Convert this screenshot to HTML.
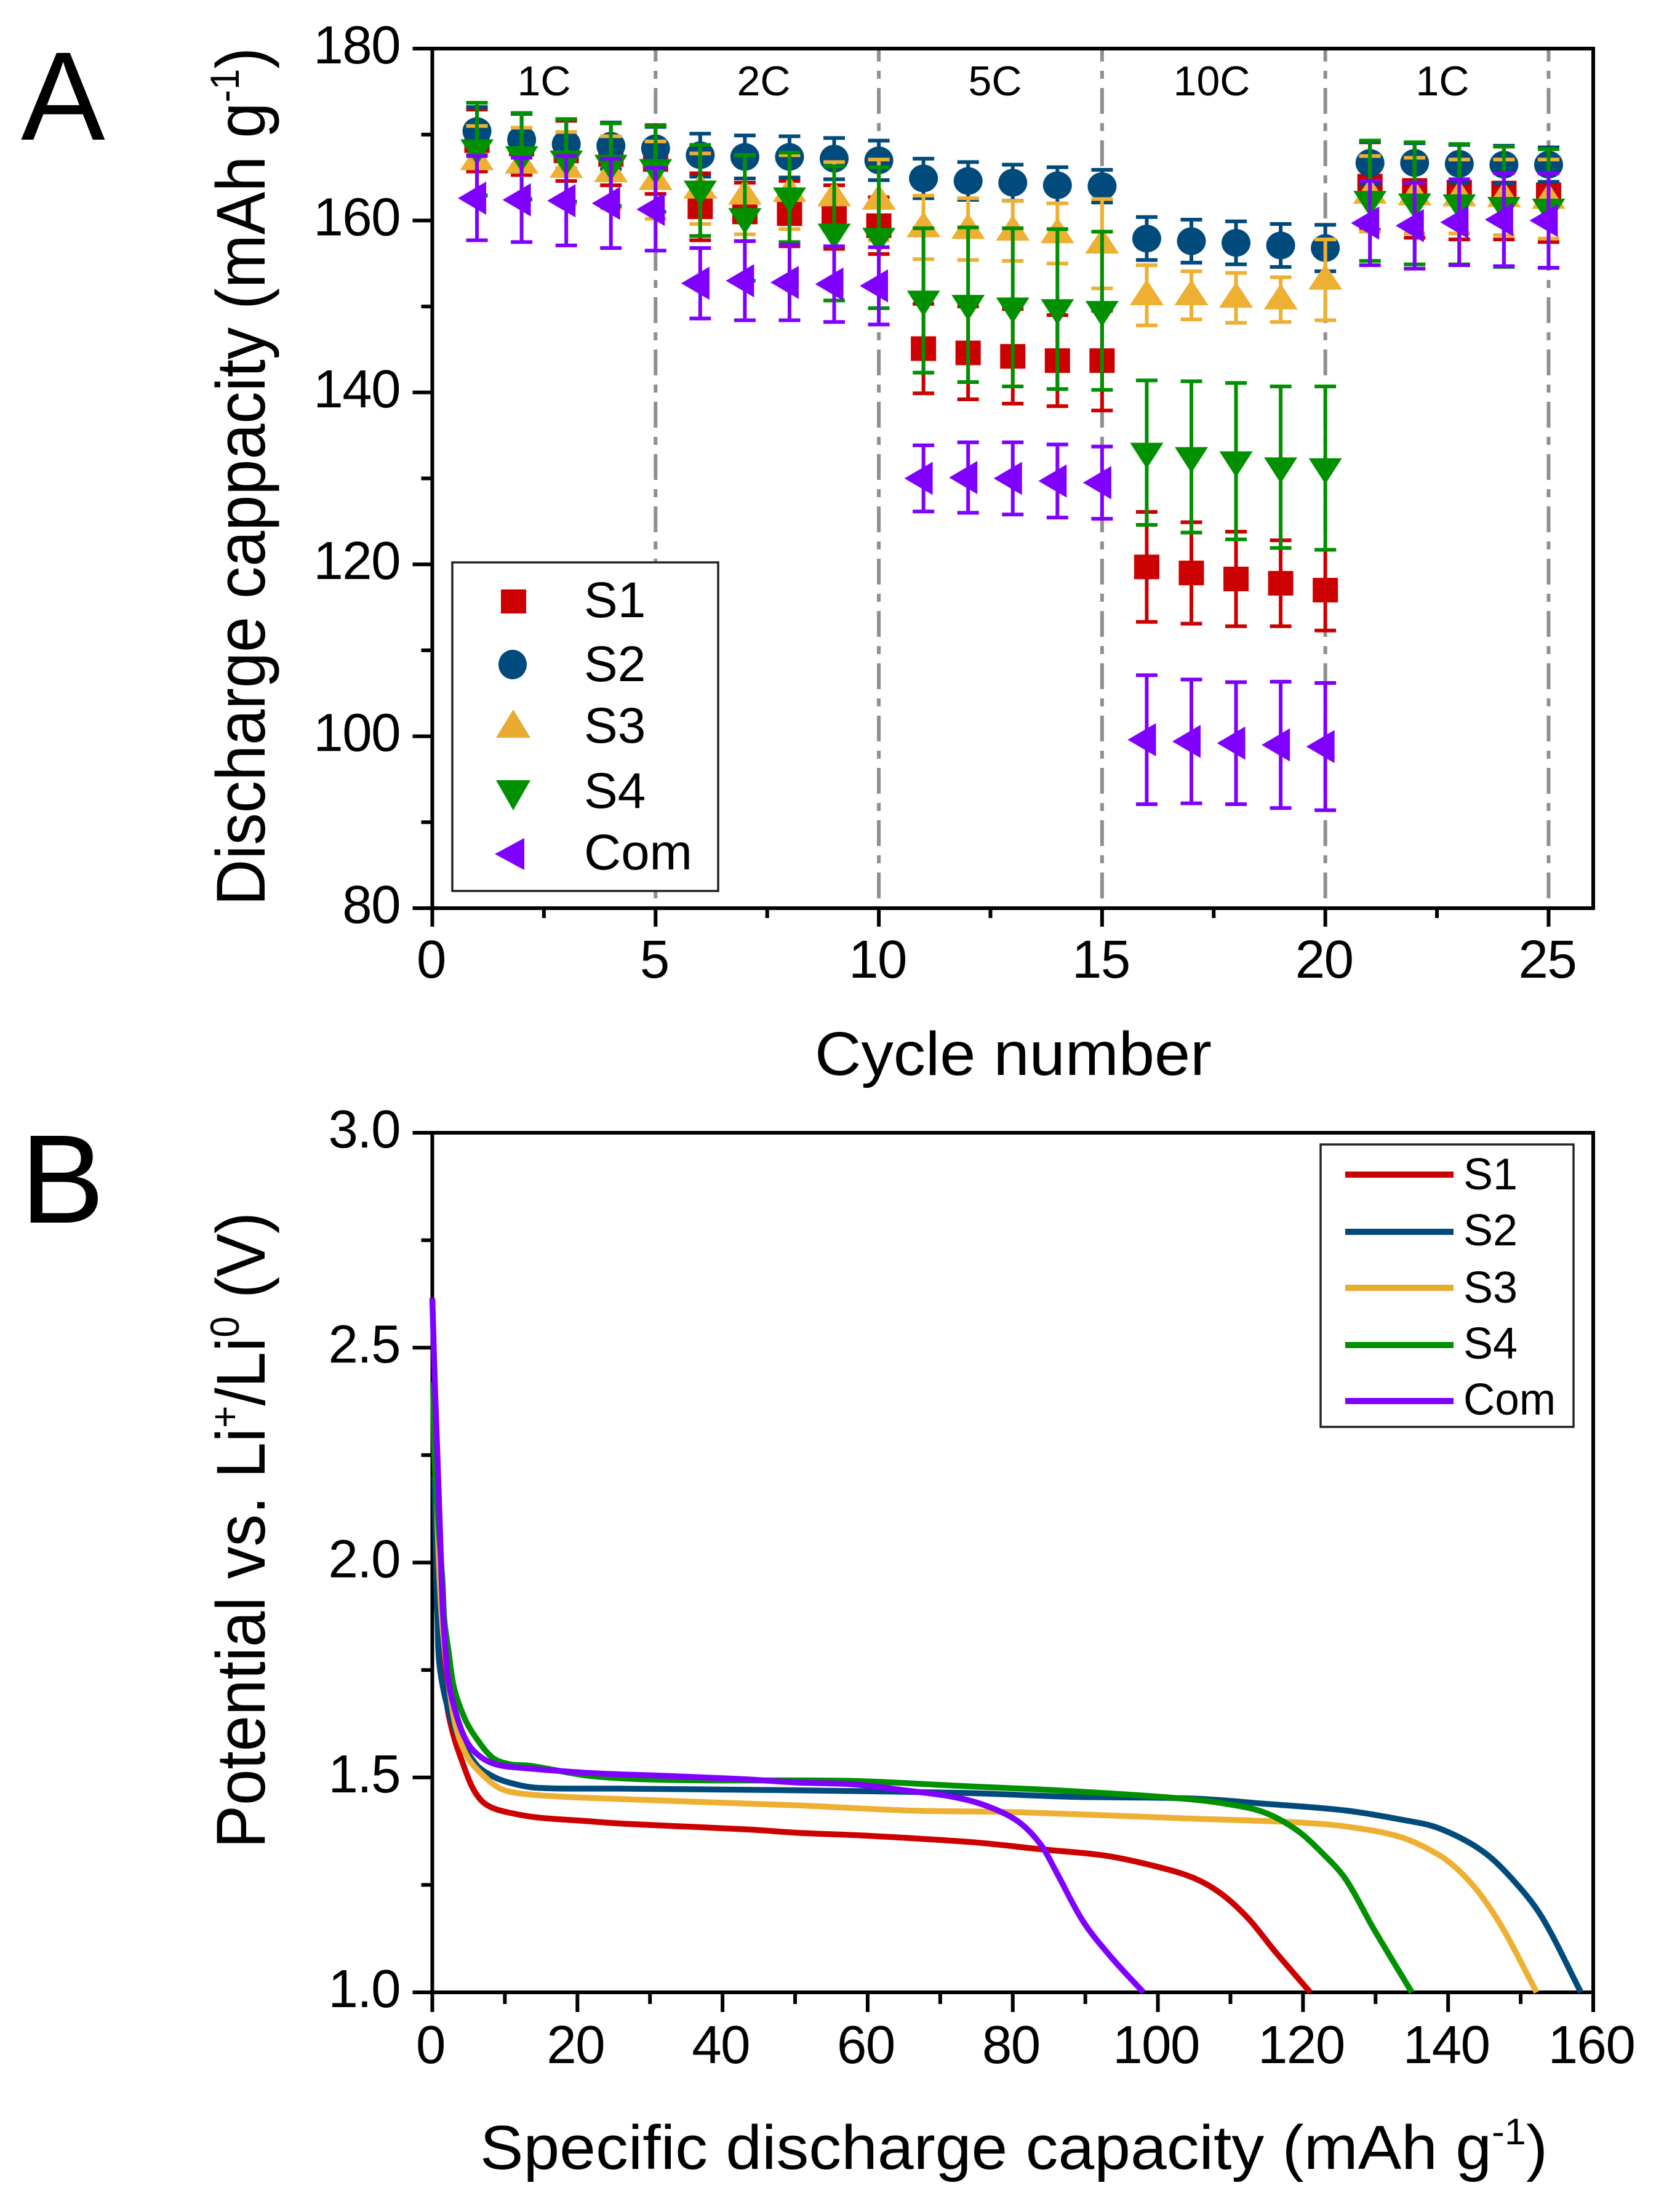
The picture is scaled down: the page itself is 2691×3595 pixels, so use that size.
<!DOCTYPE html>
<html lang="en">
<head>
<meta charset="utf-8">
<title>Discharge capacity and potential charts</title>
<style>
html,body{margin:0;padding:0;background:#fff;}
svg{display:block;}
text{font-family:"Liberation Sans",sans-serif;fill:#000;}
</style>
</head>
<body>
<svg id="figure" xmlns="http://www.w3.org/2000/svg" width="2691" height="3595" viewBox="0 0 2691 3595">
<rect x="0" y="0" width="2691" height="3595" fill="#fff"/>
<g id="panelA"></g>
<g id="panelB"></g>

<text x="34" y="227" font-size="205">A</text>
<text x="33" y="1987" font-size="205">B</text>

<text x="884" y="155" font-size="68" text-anchor="middle">1C</text>
<text x="1241" y="155" font-size="68" text-anchor="middle">2C</text>
<text x="1617" y="155" font-size="68" text-anchor="middle">5C</text>
<text x="1969" y="155" font-size="68" text-anchor="middle">10C</text>
<text x="2344" y="155" font-size="68" text-anchor="middle">1C</text>

<text transform="translate(430,1472) rotate(-90)" font-size="112" textLength="1395" lengthAdjust="spacingAndGlyphs">Discharge cappacity (mAh g<tspan font-size="66" dy="-42">-1</tspan><tspan dy="42">)</tspan></text>
<text x="1324" y="1747" font-size="100" textLength="645" lengthAdjust="spacingAndGlyphs">Cycle number</text>

<text transform="translate(430,3004) rotate(-90)" font-size="112" textLength="1034" lengthAdjust="spacingAndGlyphs">Potential vs. Li<tspan font-size="66" dy="-42">+</tspan><tspan dy="42">/Li</tspan><tspan font-size="66" dy="-42">0</tspan><tspan dy="42"> (V)</tspan></text>
<text x="780" y="3525" font-size="101" textLength="1735" lengthAdjust="spacingAndGlyphs">Specific discharge capacity (mAh g<tspan font-size="60" dy="-40">-1</tspan><tspan dy="40">)</tspan></text>

<g>
  <rect x="735" y="914" width="432" height="534" fill="#fff" stroke="#222" stroke-width="3.5"/>
  <rect x="814" y="958" width="41" height="39" fill="#cc0000"/>
  <ellipse cx="833" cy="1080" rx="23" ry="24" fill="#004a7c"/>
  <polygon points="834,1153 862,1199 806,1199" fill="#e8ab30"/>
  <polygon points="806,1268 862,1268 834,1317" fill="#009000"/>
  <polygon points="852,1362 852,1414 804,1388" fill="#8000ff"/>
  <text x="949" y="1003" font-size="82">S1</text>
  <text x="949" y="1107" font-size="82">S2</text>
  <text x="949" y="1207" font-size="82">S3</text>
  <text x="949" y="1313" font-size="82">S4</text>
  <text x="949" y="1413" font-size="82" textLength="176" lengthAdjust="spacingAndGlyphs">Com</text>
</g>

<g>
  <rect x="2146" y="1860" width="411" height="459" fill="#fff" stroke="#222" stroke-width="3.5"/>
  <line x1="2186" x2="2362" y1="1909" y2="1909" stroke="#cc0000" stroke-width="10"/>
  <line x1="2186" x2="2362" y1="2002" y2="2002" stroke="#004a7c" stroke-width="10"/>
  <line x1="2186" x2="2362" y1="2093" y2="2093" stroke="#e8ab30" stroke-width="10"/>
  <line x1="2186" x2="2362" y1="2186" y2="2186" stroke="#009000" stroke-width="10"/>
  <line x1="2186" x2="2362" y1="2277" y2="2277" stroke="#8000ff" stroke-width="10"/>
  <text x="2378" y="1933" font-size="72">S1</text>
  <text x="2378" y="2024" font-size="72">S2</text>
  <text x="2378" y="2117" font-size="72">S3</text>
  <text x="2378" y="2208" font-size="72">S4</text>
  <text x="2378" y="2299" font-size="72" textLength="150" lengthAdjust="spacingAndGlyphs">Com</text>
</g>
</svg>

<script>
// ---------- Panel A data ----------
const cycles = [1,2,3,4,5,6,7,8,9,10,11,12,13,14,15,16,17,18,19,20,21,22,23,24,25];
const s1Capacity = [169.3,168.9,168.1,167.7,167.1,161.6,161,160.8,160.4,159.4,145.1,144.6,144.2,143.7,143.7,119.7,119,118.3,117.8,117,164,163.5,163.3,163.2,163];
const s1Error = [3.6,3.6,3.5,3.6,4,3.9,3.4,3.8,3.7,3.3,5.2,5.4,5.5,5.3,5.8,6.4,5.9,5.5,5,4.7,5.1,5.5,5.5,5.4,5.5];
const s2Capacity = [170.4,169.4,168.9,168.7,168.4,167.6,167.4,167.4,167.2,167,164.9,164.6,164.4,164.1,164,157.9,157.6,157.4,157.1,156.8,166.7,166.7,166.6,166.5,166.5];
const s2Error = [2.8,3,2.9,2.7,2.5,2.5,2.5,2.4,2.4,2.3,2.3,2.2,2.1,2.1,1.9,2.5,2.5,2.5,2.5,2.7,2.5,2.3,2.2,2.2,2];
const s3Capacity = [167,166.6,166.1,165.6,164.7,163.7,163,163.3,162.8,162.4,159.2,159,158.8,158.5,157.3,151.3,151.3,151,150.8,153.1,163.1,162.9,162.8,162.7,162.5];
const s3Error = [4,4.2,4.2,4.2,4.5,4.1,4.6,4.3,4,4.7,3.7,3.6,3.5,3.5,5.2,3.5,2.8,2.9,2.6,4.7,4.4,4.4,4.3,4.4,4.6];
const s4Capacity = [168.3,167.5,167,166.5,166,163.5,160.3,162.7,158.5,158,150.7,150.2,149.9,149.7,149.5,133,132.5,132,131.3,131.2,162.3,162,161.9,161.6,161.4];
const s4Error = [5.4,5,4.8,4.8,5,5.3,7.3,5.2,7.8,8.2,8.4,9,9.2,9.3,9.2,8.4,8.8,9.1,9.4,9.5,7,7.1,7,7,6.9];
const comCapacity = [162.6,162.4,162.3,162,161.3,152.7,153,152.8,152.6,152.4,130,130.1,130,129.7,129.5,99.6,99.4,99.2,99,98.8,159.7,159.4,159.8,160.1,160];
const comError = [4.9,4.9,5.2,5.2,4.8,4.1,4.6,4.4,4.4,4.5,3.85,4.1,4.2,4.25,4.2,7.5,7.2,7.1,7.35,7.4,4.9,5,5,5.4,5.5];
const aXMajorTicks = [0,5,10,15,20,25];
const aXMinorTicks = [2.5,7.5,12.5,17.5,22.5];
const aYMajorTicks = [80,100,120,140,160,180];
const aYMinorTicks = [90,110,130,150,170];
const rateBoundaries = [5,10,15,20,25];

// ---------- Panel B data ----------
const bS1Capacity = [0.4,0.8,1.2,1.6,2.05,3,4.14,5.46,6.78,8.3,10.6,14.4,20.8,25.7,33.3,43.5,50.6,60.4,74.7,83.8,92.8,99.5,104.8,108.6,112.4,116.1,121];
const bS1Potential = [2.2,2,1.85,1.75,1.665,1.593,1.536,1.479,1.446,1.429,1.418,1.407,1.399,1.393,1.387,1.379,1.371,1.364,1.349,1.333,1.318,1.294,1.267,1.231,1.173,1.096,1];
const bS2Capacity = [0.3,0.5,0.7,1.1,3,6,8.3,10.6,14.4,25.7,50.6,73.2,88.2,104.8,114.6,125.9,133.5,138.7,144.7,149.3,153,158.3];
const bS2Potential = [2.2,2,1.88,1.746,1.617,1.531,1.503,1.488,1.476,1.474,1.47,1.464,1.455,1.451,1.439,1.423,1.402,1.382,1.329,1.255,1.173,1];
const bS3Capacity = [0.5,0.9,1.4,2.4,3.4,4.9,6.8,9.4,12.5,18.2,25.7,37.1,50.6,65.6,80.7,103.3,118.4,125.9,133.5,138.7,141.7,144.7,147.8,152.2];
const bS3Potential = [2.2,2,1.85,1.7,1.608,1.546,1.508,1.474,1.462,1.455,1.45,1.443,1.435,1.423,1.419,1.405,1.396,1.386,1.361,1.32,1.28,1.222,1.141,1];
const bS4Capacity = [0.1,0.3,0.8,1.4,1.67,2.24,3,4.5,6,8.3,10.6,13.6,22,33.3,57.5,73.2,88.2,103.3,109.3,114.6,119.1,122.9,125.9,129.7,135];
const bS4Potential = [2.42,2.245,2.1,1.958,1.865,1.794,1.708,1.636,1.593,1.546,1.531,1.527,1.503,1.494,1.492,1.48,1.468,1.451,1.439,1.419,1.378,1.32,1.263,1.149,1];
const bComCapacity = [0,0.35,0.7,1.05,1.4,1.8,2.25,3.4,4.9,6.8,9.1,12.5,22,33.3,42.8,50.6,58,65.6,71.7,76.2,80.7,83.8,86,89.7,93.5,98];
const bComPotential = [2.615,2.417,2.25,2.08,1.907,1.8,1.722,1.641,1.579,1.546,1.529,1.522,1.51,1.503,1.496,1.488,1.484,1.469,1.455,1.435,1.398,1.345,1.28,1.165,1.083,1];
const bXMajorTicks = [0,20,40,60,80,100,120,140,160];
const bXMinorTicks = [10,30,50,70,90,110,130,150];
const bYMajorTicks = ["1.0","1.5","2.0","2.5","3.0"];
const bYMinorTicks = [1.25,1.75,2.25,2.75];

const COLORS = {S1:"#cc0000",S2:"#004a7c",S3:"#eeb032",S4:"#009000",Com:"#8000ff"};

const NS = "http://www.w3.org/2000/svg";
function el(tag, attrs, parent){
  const e = document.createElementNS(NS, tag);
  for (const k in attrs) e.setAttribute(k, attrs[k]);
  parent.appendChild(e);
  return e;
}

// Axis functions
const A = {left:702.5, right:2589, top:79, bottom:1476};
const B = {left:702.5, right:2589, top:1841, bottom:3238};
function xA(v){ return A.left + v/26*(A.right-A.left); }
function yA(v){ return A.top + (180-v)/100*(A.bottom-A.top); }
function xB(v){ return B.left + v/160*(B.right-B.left); }
function yB(v){ return B.top + (3-v)/2*(B.bottom-B.top); }

const panelA = document.getElementById("panelA");
const panelB = document.getElementById("panelB");

function drawFrame(parent, box){
  const f = el("rect",{x:box.left,y:box.top,width:box.right-box.left,height:box.bottom-box.top,fill:"none",stroke:"#000","stroke-width":6},parent);
  
  
}
function drawXTick(parent, x, box, len){
  const t = el("line",{x1:x,x2:x,y1:box.bottom,y2:box.bottom+len,stroke:"#000","stroke-width":6},parent);
  
  
}
function drawYTick(parent, y, box, len){
  const t = el("line",{x1:box.left-len,x2:box.left,y1:y,y2:y,stroke:"#000","stroke-width":6},parent);
  
  
}
function drawLabel(parent, x, y, str, anchor){
  const t = el("text",{x:x,y:y,"font-size":87,"text-anchor":anchor,"letter-spacing":-1.5},parent);
  t.textContent = str;
  
  
}

// ---------- Panel A ----------
rateBoundaries.forEach(function(c){
  const l = el("line",{x1:xA(c),x2:xA(c),y1:A.top+3,y2:A.bottom,stroke:"#8f8f8f","stroke-width":6,"stroke-dasharray":"42 15 13 15","stroke-dashoffset":24},panelA);
  
  
});
drawFrame(panelA, A);
aXMajorTicks.forEach(function(v){
  drawXTick(panelA, xA(v), A, 30);
  drawLabel(panelA, xA(v)-2, 1589, String(v), "middle");
});
aXMinorTicks.forEach(function(v){ drawXTick(panelA, xA(v), A, 16); });
aYMajorTicks.forEach(function(v){
  drawYTick(panelA, yA(v), A, 32);
  drawLabel(panelA, 650, yA(v)+24, String(v), "end");
});
aYMinorTicks.forEach(function(v){ drawYTick(panelA, yA(v), A, 18); });

function drawMarker(parent, shape, cx, cy, color){
  let m;
  if (shape === "square") {
    m = el("rect",{x:cx-20.5,y:cy-20,width:41,height:40,fill:color},parent);
  } else if (shape === "circle") {
    m = el("ellipse",{cx:cx,cy:cy,rx:23.5,ry:22.5,fill:color},parent);
  } else if (shape === "up") {
    m = el("polygon",{points:[cx,cy-26,cx+27.5,cy+16,cx-27.5,cy+16].join(" "),fill:color},parent);
  } else if (shape === "down") {
    m = el("polygon",{points:[cx-27,cy-16,cx+27,cy-16,cx,cy+26].join(" "),fill:color},parent);
  } else {
    m = el("polygon",{points:[cx+15,cy-27,cx+15,cy+27,cx-31,cy].join(" "),fill:color},parent);
  }
  return m;
}
function drawSeriesA(values, errors, shape, color, name){
  const g = el("g",{},panelA);
  
  
  cycles.forEach(function(c,i){
    const x = xA(c);
    const hi = yA(values[i]+errors[i]);
    const lo = yA(values[i]-errors[i]);
    const d = "M"+x+" "+hi+"V"+lo+"M"+(x-17.5)+" "+hi+"H"+(x+17.5)+"M"+(x-17.5)+" "+lo+"H"+(x+17.5);
    const bar = el("path",{d:d,fill:"none",stroke:color,"stroke-width":6},g);
    
    
    const m = drawMarker(g, shape, x, yA(values[i]), color);
    
    
  });
}
drawSeriesA(s1Capacity, s1Error, "square", COLORS.S1, "s1");
drawSeriesA(s2Capacity, s2Error, "circle", COLORS.S2, "s2");
drawSeriesA(s3Capacity, s3Error, "up", COLORS.S3, "s3");
drawSeriesA(s4Capacity, s4Error, "down", COLORS.S4, "s4");
drawSeriesA(comCapacity, comError, "left", COLORS.Com, "com");

// ---------- Panel B ----------
drawFrame(panelB, B);
bXMajorTicks.forEach(function(v){
  drawXTick(panelB, xB(v), B, 32);
  drawLabel(panelB, xB(v)-3, 3353, String(v), "middle");
});
bXMinorTicks.forEach(function(v){ drawXTick(panelB, xB(v), B, 19); });
bYMajorTicks.forEach(function(s){
  drawYTick(panelB, yB(parseFloat(s)), B, 32);
  drawLabel(panelB, 650, yB(parseFloat(s))+24, s, "end");
});
bYMinorTicks.forEach(function(v){ drawYTick(panelB, yB(v), B, 18); });

// Smooth path through the data points (tangents scaled by segment length)
function smoothPath(xs, ys){
  const p = xs.map(function(x,i){ return [xB(x), yB(ys[i])]; });
  function tangent(i){
    const a = p[Math.max(i-1,0)], b = p[Math.min(i+1,p.length-1)];
    const dx = b[0]-a[0], dy = b[1]-a[1], n = Math.hypot(dx,dy) || 1;
    return [dx/n, dy/n];
  }
  let d = "M"+p[0][0].toFixed(1)+" "+p[0][1].toFixed(1);
  for (let i=0;i<p.length-1;i++){
    const len = Math.hypot(p[i+1][0]-p[i][0], p[i+1][1]-p[i][1]);
    const t1 = tangent(i), t2 = tangent(i+1);
    d += "C"+(p[i][0]+t1[0]*len/3).toFixed(1)+" "+(p[i][1]+t1[1]*len/3).toFixed(1)+" "
      +(p[i+1][0]-t2[0]*len/3).toFixed(1)+" "+(p[i+1][1]-t2[1]*len/3).toFixed(1)+" "
      +p[i+1][0].toFixed(1)+" "+p[i+1][1].toFixed(1);
  }
  return d;
}
function drawCurve(xs, ys, color, name){
  const line = el("path",{d:smoothPath(xs,ys),fill:"none",stroke:color,"stroke-width":9.5,"stroke-linejoin":"round"},panelB);
  
  
}
drawCurve(bS1Capacity, bS1Potential, COLORS.S1, "s1");
drawCurve(bS2Capacity, bS2Potential, COLORS.S2, "s2");
drawCurve(bS3Capacity, bS3Potential, COLORS.S3, "s3");
drawCurve(bS4Capacity, bS4Potential, COLORS.S4, "s4");
drawCurve(bComCapacity, bComPotential, COLORS.Com, "com");
</script>
</body>
</html>
